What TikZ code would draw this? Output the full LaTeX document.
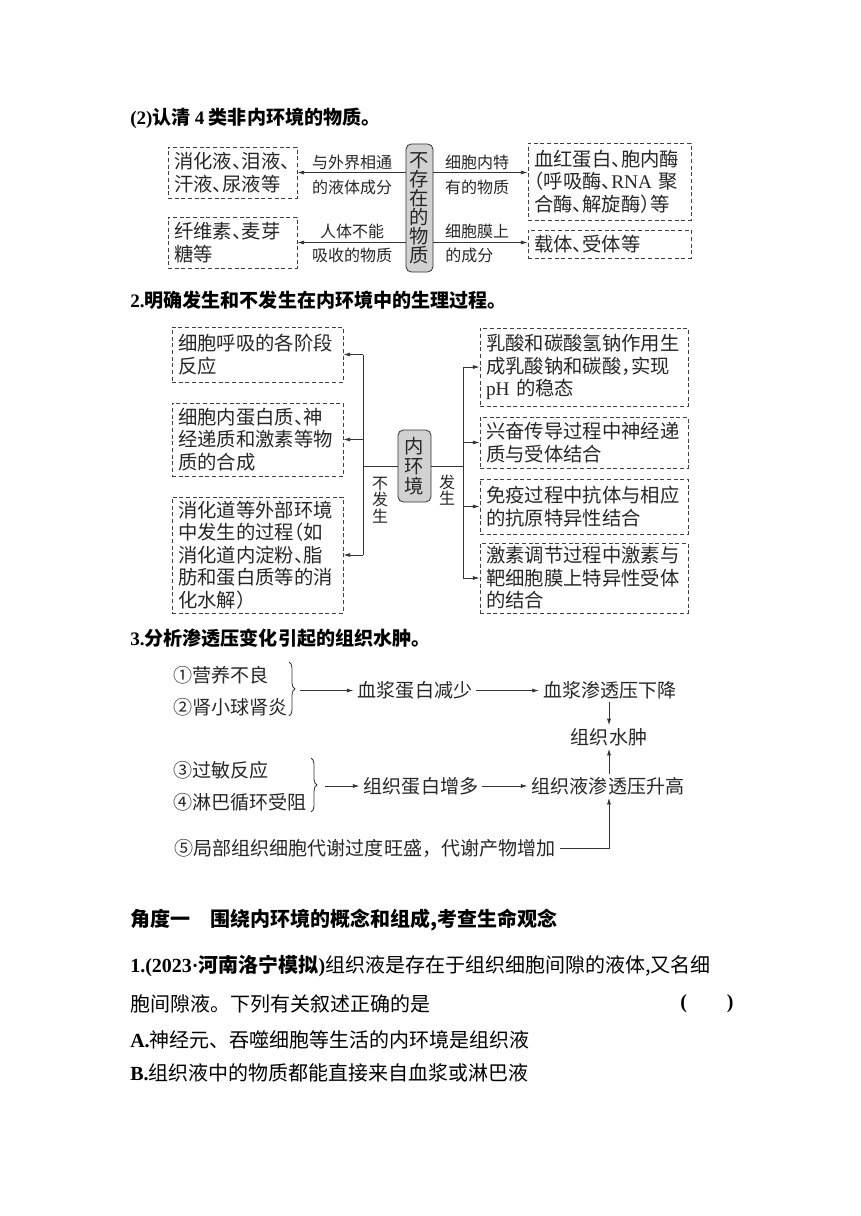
\documentclass[tikz,border=0pt]{standalone}
\usepackage{fontspec}
\setmainfont{Noto Sans CJK SC}
\newfontfamily\dgfont[RawFeature=+halt]{Noto Sans CJK SC}
\newfontfamily\tnr{Liberation Serif}
\usetikzlibrary{arrows.meta,decorations.pathreplacing}

\begin{document}
\begin{tikzpicture}[x=0.75pt,y=-0.75pt,
  every node/.style={inner sep=0pt,text=black!85},
  dbox/.style={draw=black!75,dash pattern=on 3pt off 2pt,line width=0.6pt,inner xsep=4.5pt,inner ysep=0pt,align=left,font=\dgfont\fontsize{14.5}{16.9}\selectfont},
  rbox/.style={draw=black!80,fill=black!18,rounded corners=4pt,line width=0.6pt,align=center,font=\dgfont\fontsize{14.5}{13}\selectfont},
  lbl/.style={font=\dgfont\fontsize{12}{12}\selectfont},
  vlbl/.style={font=\dgfont\fontsize{12}{12.4}\selectfont,align=center},
  flow/.style={inner xsep=3pt,inner ysep=2pt,font=\fontsize{14.3}{16}\selectfont},
  arr/.style={-{Latex[length=5pt,width=3pt]},line width=0.6pt,draw=black!80},
  ln/.style={line width=0.6pt,draw=black!80},
  brc/.style={line width=0.6pt,draw=black!80,decorate,decoration={brace,amplitude=4.5pt}},
  head/.style={text=black,font=\bfseries\fontsize{14.3}{16}\selectfont},
  body/.style={text=black,font=\fontsize{15}{18}\selectfont}]
\useasboundingbox (0,0) rectangle (860,1216);

% (2) four kinds
\node[head,anchor=west] (h1) at (130,118) {{\tnr (2)}认清 {\tnr 4} 类非内环境的物质。};
\node[dbox,minimum width=96.75pt,minimum height=38.25pt,text width=87.75pt] (lt) at (232.5,172.5) {消化液、泪液、\\汗液、尿液等};
\node[dbox,minimum width=96.75pt,minimum height=38.25pt,text width=87.75pt] (lb) at (232.5,242.5) {纤维素、麦芽\\糖等};
\node[rbox,minimum width=20.25pt,minimum height=96pt] (c1) at (419.5,208) {不\\存\\在\\的\\物\\质};
\node[dbox,minimum width=122.25pt,minimum height=57.75pt,text width=113.25pt] (rt) at (609.5,181.5) {血红蛋白、胞内酶\\（呼吸酶、{\tnr RNA} 聚\\合酶、解旋酶）等};
\node[dbox,minimum width=122.25pt,minimum height=21pt,text width=113.25pt] (rb) at (609.5,244) {载体、受体等};
\draw[arr] (lt.east -| c1.west) -- (lt.east);
\draw[arr] (lb.east -| c1.west) -- (lb.east);
\draw[arr] (lt.east -| c1.east) -- (lt.east -| rt.west);
\draw[arr] (lb.east -| c1.east) -- (lb.east -| rb.west);
\node[lbl] (l1a) at (352,162) {与外界相通};
\node[lbl] (l1b) at (352,187) {的液体成分};
\node[lbl] (l2a) at (352,231) {人体不能};
\node[lbl] (l2b) at (352,255) {吸收的物质};
\node[lbl] (r1a) at (477,162) {细胞内特};
\node[lbl] (r1b) at (477,187) {有的物质};
\node[lbl] (r2a) at (477,231) {细胞膜上};
\node[lbl,anchor=west] (r2b) at (445,255) {的成分};

% 2. processes
\node[head,anchor=west] (h2) at (130,300) {{\tnr 2.}明确发生和不发生在内环境中的生理过程。};
\node[dbox,minimum width=128.25pt,minimum height=41.25pt,text width=119.25pt] (L1) at (257.5,354.5) {细胞呼吸的各阶段\\反应};
\node[dbox,minimum width=128.25pt,minimum height=54.75pt,text width=119.25pt] (L2) at (257.5,439.5) {细胞内蛋白质、神\\经递质和激素等物\\质的合成};
\node[dbox,minimum width=128.25pt,minimum height=87pt,text width=119.25pt] (L3) at (257.5,555) {消化道等外部环境\\中发生的过程（如\\消化道内淀粉、脂\\肪和蛋白质等的消\\化水解）};
\node[rbox,minimum width=24.75pt,minimum height=54pt,font=\dgfont\fontsize{14.5}{15}\selectfont] (C2) at (414.5,466) {内\\环\\境};
\node[dbox,minimum width=156pt,minimum height=58.5pt,text width=147pt] (R1) at (584,367) {乳酸和碳酸氢钠作用生\\成乳酸钠和碳酸，实现\\{\tnr pH} 的稳态};
\node[dbox,minimum width=156pt,minimum height=38.25pt,text width=147pt] (R2) at (584,442.5) {兴奋传导过程中神经递\\质与受体结合};
\node[dbox,minimum width=156pt,minimum height=41.25pt,text width=147pt] (R3) at (584,506.5) {免疫过程中抗体与相应\\的抗原特异性结合};
\node[dbox,minimum width=156pt,minimum height=52.5pt,text width=147pt] (R4) at (584,578) {激素调节过程中激素与\\靶细胞膜上特异性受体\\的结合};
\coordinate (tl) at (363,466);
\coordinate (tr) at (463,466);
\draw[ln] (C2.west) -- (tl);
\draw[ln] (L1.east -| tl) -- (L3.east -| tl);
\foreach \b in {L1,L2,L3} \draw[arr] (\b.east -| tl) -- (\b.east);
\draw[ln] (C2.east) -- (tr);
\draw[ln] (R1.west -| tr) -- (R4.west -| tr);
\foreach \b in {R1,R2,R3,R4} \draw[arr] (\b.west -| tr) -- (\b.west);
\node[vlbl] (nf) at (380,500) {不\\发\\生};
\node[vlbl] (fs) at (447,490) {发\\生};

% 3. tissue edema
\node[head,anchor=west] (h3) at (130,638) {{\tnr 3.}分析渗透压变化引起的组织水肿。};
\node[flow,anchor=west] (a1) at (169,675) {①营养不良};
\node[flow,anchor=west] (a2) at (169,707) {②肾小球肾炎};
\node[flow,anchor=west] (a3) at (169,770) {③过敏反应};
\node[flow,anchor=west] (a4) at (169,802) {④淋巴循环受阻};
\node[flow,anchor=west] (a5) at (170,848) {⑤局部组织细胞代谢过度旺盛，代谢产物增加};
\draw[brc] (289,662) -- (289,716);
\draw[brc] (311,758) -- (311,812);
\coordinate (b1) at (300,690.5);
\coordinate (b2) at (325,786);
\node[flow] (p1) at (415,690.5) {血浆蛋白减少};
\node[flow] (p2) at (610,690.5) {血浆渗透压下降};
\node[flow] (ed) at (609,737) {组织水肿};
\node[flow] (q1) at (421,786) {组织蛋白增多};
\node[flow] (q2) at (608,786) {组织液渗透压升高};
\draw[arr] (b1) -- (p1.west);
\draw[arr] (p1.east) -- (p1.east -| p2.west);
\draw[arr] (p2.south -| ed) -- (ed.north);
\draw[arr] (b2) -- (q1.west);
\draw[arr] (q1.east) -- (q1.east -| q2.west);
\draw[arr] (q2.north -| ed) -- (ed.south);
\draw[arr] (a5.east) -- (a5.east -| ed) -- (q2.south -| ed);

% exercise
\node[anchor=west,text=black,font=\bfseries\fontsize{15}{18}\selectfont] (t1) at (130,920) {角度一\hspace{1em}围绕内环境的概念和组成,考查生命观念};
\node[body,anchor=west] (e1) at (130,966) {{\tnr\bfseries 1.(2023·}{\bfseries 河南洛宁模拟}{\tnr\bfseries )}组织液是存在于组织细胞间隙的液体,又名细};
\node[body,anchor=west] (e2) at (130,1004) {胞间隙液。下列有关叙述正确的是};
\node[body,anchor=west] (ans) at (680,1004) {{\tnr\bfseries (}\hspace{2em}{\tnr\bfseries )}};
\node[body,anchor=west] (oa) at (130,1040) {{\tnr\bfseries A.}神经元、吞噬细胞等生活的内环境是组织液};
\node[body,anchor=west] (ob) at (130,1073) {{\tnr\bfseries B.}组织液中的物质都能直接来自血浆或淋巴液};
\end{tikzpicture}
\end{document}
